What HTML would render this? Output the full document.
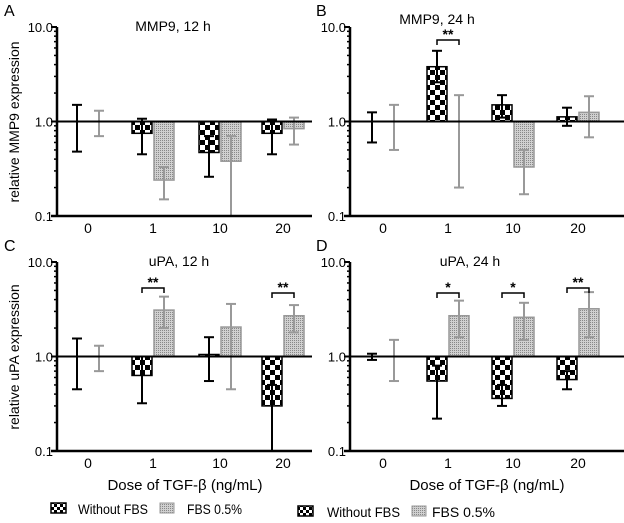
<!DOCTYPE html>
<html><head><meta charset="utf-8"><style>
body{margin:0;background:#fff;}
svg{display:block;font-family:"Liberation Sans",sans-serif;}
</style></head><body>
<svg id="s" width="624" height="523" xmlns="http://www.w3.org/2000/svg">
<defs>
<pattern id="chk" width="10" height="10" patternUnits="userSpaceOnUse">
<rect width="10" height="10" fill="#fff"/><rect width="5" height="5" fill="#000"/><rect x="5" y="5" width="5" height="5" fill="#000"/>
</pattern>
<pattern id="chs" width="6" height="6" patternUnits="userSpaceOnUse">
<rect width="6" height="6" fill="#fff"/><rect width="3" height="3" fill="#000"/><rect x="3" y="3" width="3" height="3" fill="#000"/>
</pattern>
<pattern id="dot" width="2" height="2" patternUnits="userSpaceOnUse">
<rect width="2" height="2" fill="#d0d0d0"/><rect width="1" height="1" fill="#888"/>
</pattern>
</defs>
</svg>
<script>
const s=document.getElementById('s');
function el(t,a,txt){const e=document.createElementNS('http://www.w3.org/2000/svg',t);for(const k in a)e.setAttribute(k,a[k]);if(txt!==undefined)e.textContent=txt;s.appendChild(e);return e;}
const panels=[
{L:'A',ax:57,r:312,y10:27,y01:216,title:'MMP9, 12 h',tx:173,ty:31,xs:[88,153,220,283],
 d:[[1,.48,1.5,1,.7,1.3],[.75,.45,1.07,.24,.15,.33],[.47,.26,.7,.38,.1,.7],[.75,.45,1.05,.84,.57,1.1]],sig:[]},
{L:'B',ax:350,r:624,y10:27,y01:216,title:'MMP9, 24 h',tx:437,ty:24,xs:[383,448,513,578],
 d:[[1,.6,1.25,1,.5,1.5],[3.8,2.6,5.6,1.0,.2,1.9],[1.5,1.1,1.9,.33,.17,.5],[1.12,.9,1.4,1.25,.68,1.85]],sig:[[1,'**',40]]},
{L:'C',ax:57,r:312,y10:262,y01:451,title:'uPA, 12 h',tx:179,ty:266,xs:[88,153,220,283],
 d:[[1,.45,1.55,1,.7,1.3],[.63,.32,1.0,3.1,2.0,4.3],[1.05,.55,1.6,2.05,.45,3.6],[.3,.1,.5,2.7,1.8,3.5]],sig:[[1,'**',288],[3,'**',293]]},
{L:'D',ax:350,r:624,y10:262,y01:451,title:'uPA, 24 h',tx:470,ty:266,xs:[383,448,513,578],
 d:[[1,.92,1.07,1,.55,1.5],[.55,.22,.8,2.7,1.6,3.9],[.36,.3,.5,2.6,1.5,3.7],[.57,.45,.7,3.2,1.6,4.8]],sig:[[1,'*',293],[2,'*',293],[3,'**',288]]}
];
for(const p of panels){
 const dec=(p.y01-p.y10)/2, y1=p.y10+dec;
 const Y=v=>y1-Math.log10(v)*dec;
 el('text',{x:p.ax<100?4:316,y:p.y10-11,'font-size':16},p.L);
 el('text',{x:p.tx,y:p.ty,'font-size':14,'text-anchor':'middle'},p.title);
 p.d.forEach((q,i)=>{
  const c=p.xs[i];
  const bars=[[c-21,q[0],q[1],q[2],'url(#chk)','#000'],[c+1,q[3],q[4],q[5],'url(#dot)','#999']];
  for(const b of bars){
   const yv=Y(b[1]);
   if(Math.abs(b[1]-1)>0.02) el('rect',{x:b[0],y:Math.min(yv,y1),width:20,height:Math.abs(yv-y1),fill:b[4],stroke:b[5],'stroke-width':1.5});
   const ex=b[0]+10, lo=Y(b[2]), hi=Y(b[3]);
   el('line',{x1:ex,x2:ex,y1:lo,y2:hi,stroke:b[5],'stroke-width':2});
   el('line',{x1:ex-5,x2:ex+5,y1:hi,y2:hi,stroke:b[5],'stroke-width':2});
   if(b[2]>0.105) el('line',{x1:ex-5,x2:ex+5,y1:lo,y2:lo,stroke:b[5],'stroke-width':2});
  }
 });
 el('line',{x1:p.ax,x2:p.r,y1:y1,y2:y1,stroke:'#000','stroke-width':2});
 el('line',{x1:p.ax,x2:p.ax,y1:p.y10,y2:p.y01+1,stroke:'#000','stroke-width':2.5});
 el('line',{x1:p.ax-6,x2:p.r,y1:p.y01,y2:p.y01,stroke:'#000','stroke-width':2.5});
 [[10,'10.0'],[1,'1.0'],[.1,'0.1']].forEach(([v,t])=>{
  el('line',{x1:p.ax-6,x2:p.ax,y1:Y(v),y2:Y(v),stroke:'#000','stroke-width':2});
  el('text',{x:p.ax-4,y:Y(v)+5,'font-size':13,'text-anchor':'end'},t);
 });
 for(const base of [.1,1]) for(let k=2;k<=9;k++){const yy=Y(base*k);el('line',{x1:p.ax-3,x2:p.ax,y1:yy,y2:yy,stroke:'#000','stroke-width':1.5});}
 ['0','1','10','20'].forEach((t,i)=>el('text',{x:p.xs[i],y:p.y01+17,'font-size':14,'text-anchor':'middle'},t));
 for(const [i,t,yy] of p.sig){const c=p.xs[i];
  el('path',{d:`M${c-11},${yy+5}V${yy}H${c+11}V${yy+5}`,fill:'none',stroke:'#000','stroke-width':1.5});
  el('text',{x:c,y:yy-1,'font-size':14,'font-weight':'bold','text-anchor':'middle'},t);}
}
el('text',{x:0,y:0,'font-size':14,'text-anchor':'middle',transform:'translate(19,122) rotate(-90)'},'relative MMP9 expression');
el('text',{x:0,y:0,'font-size':14,'text-anchor':'middle',transform:'translate(19,357) rotate(-90)'},'relative uPA expression');
el('text',{x:185,y:490,'font-size':15,'text-anchor':'middle'},'Dose of TGF-β (ng/mL)');
el('text',{x:487,y:490,'font-size':15,'text-anchor':'middle'},'Dose of TGF-β (ng/mL)');
function leg(bx,tx,tl,gx,fx,fl,yb){
 el('rect',{x:bx,y:yb-10,width:15,height:10,fill:'url(#chs)',stroke:'#000','stroke-width':1.5});
 el('text',{x:tx,y:yb+1,'font-size':14,textLength:tl,lengthAdjust:'spacingAndGlyphs'},'Without FBS');
 el('rect',{x:gx,y:yb-10,width:14,height:10,fill:'url(#dot)',stroke:'#999','stroke-width':1});
 el('text',{x:fx,y:yb+1,'font-size':14,textLength:fl,lengthAdjust:'spacingAndGlyphs'},'FBS 0.5%');
}
leg(51,78,70,160,187,55,513);leg(298,327,73,412,432,63,516);
</script>
</body></html>
